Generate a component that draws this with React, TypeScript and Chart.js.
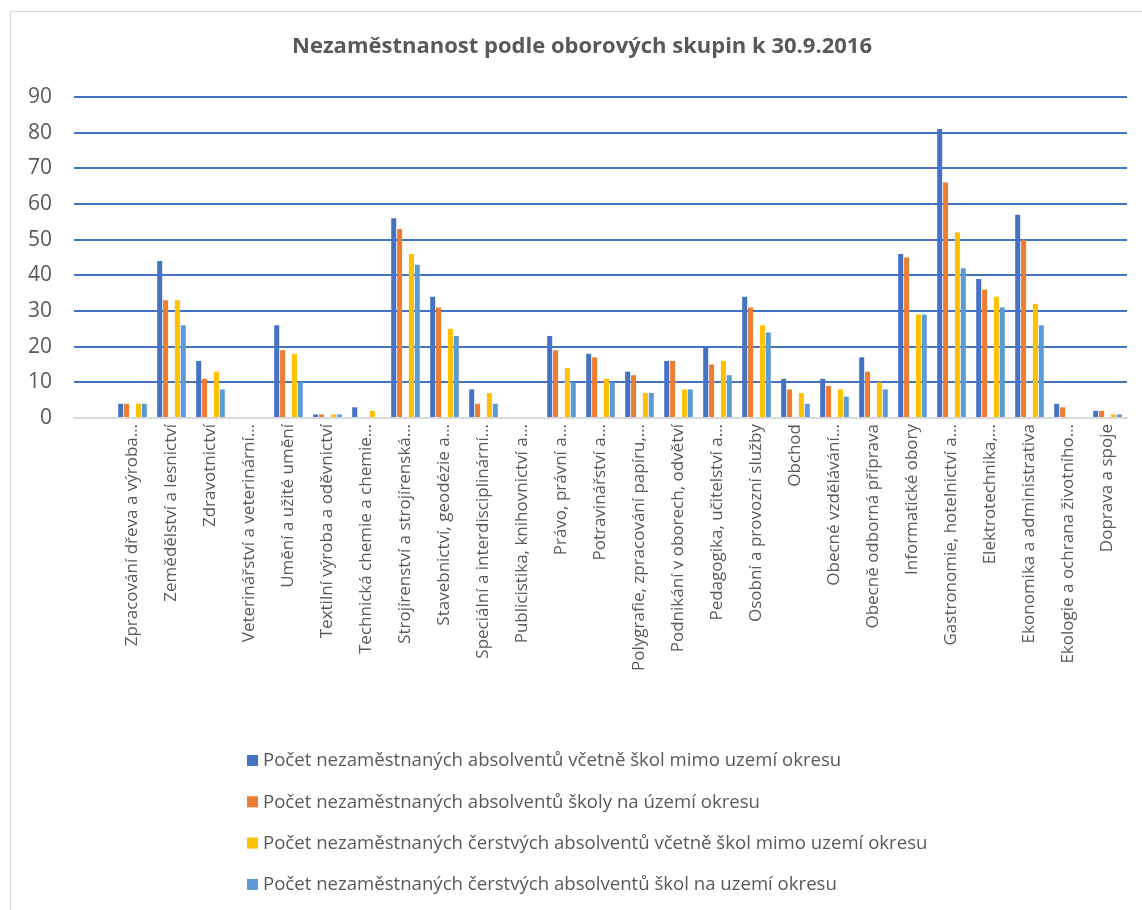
import React, { useEffect, useRef } from "react";
import { Chart, registerables } from "chart.js";

Chart.register(...registerables);

const TITLE = "Nezaměstnanost podle oborových skupin k 30.9.2016";

const categories: string[] = [
  "",
  "Zpracování dřeva a výroba…",
  "Zemědělství a lesnictví",
  "Zdravotnictví",
  "Veterinářství a veterinární…",
  "Umění a užité umění",
  "Textilní výroba a oděvnictví",
  "Technická chemie a chemie…",
  "Strojírenství a strojírenská…",
  "Stavebnictví, geodézie a…",
  "Speciální a interdisciplinární…",
  "Publicistika, knihovnictví a…",
  "Právo, právní a…",
  "Potravinářství a…",
  "Polygrafie, zpracování papíru,…",
  "Podnikání v oborech, odvětví",
  "Pedagogika, učitelství a…",
  "Osobní a provozní služby",
  "Obchod",
  "Obecné vzdělávání…",
  "Obecně odborná příprava",
  "Informatické obory",
  "Gastronomie, hotelnictví a…",
  "Elektrotechnika,…",
  "Ekonomika a administrativa",
  "Ekologie a ochrana životního…",
  "Doprava a spoje",
];

const seriesLabels: string[] = [
  "Počet nezaměstnaných absolventů včetně škol mimo uzemí okresu",
  "Počet nezaměstnaných absolventů školy na území okresu",
  "",
  "Počet nezaměstnaných čerstvých absolventů včetně škol mimo uzemí okresu",
  "Počet nezaměstnaných čerstvých absolventů škol na uzemí okresu",
];

const absolventiVcetneMimo: (number | null)[] = [
  null, 4, 44, 16, 0, 26, 1, 3, 56, 34, 8, 0, 23, 18, 13, 16, 20, 34, 11, 11, 17, 46, 81, 39, 57, 4, 2,
];
const absolventiOkres: (number | null)[] = [
  null, 4, 33, 11, 0, 19, 1, 0, 53, 31, 4, 0, 19, 17, 12, 16, 15, 31, 8, 9, 13, 45, 66, 36, 50, 3, 2,
];
const emptySeries: (number | null)[] = categories.map(() => null);
const cerstviVcetneMimo: (number | null)[] = [
  null, 4, 33, 13, 0, 18, 1, 2, 46, 25, 7, 0, 14, 11, 7, 8, 16, 26, 7, 8, 10, 29, 52, 34, 32, 0, 1,
];
const cerstviOkres: (number | null)[] = [
  null, 4, 26, 8, 0, 10, 1, 0, 43, 23, 4, 0, 10, 10, 7, 8, 12, 24, 4, 6, 8, 29, 42, 31, 26, 0, 1,
];

const seriesColors: string[] = ["#4472C4", "#ED7D31", "rgba(0,0,0,0)", "#FFC000", "#5B9BD5"];

const yTicks: number[] = [0, 10, 20, 30, 40, 50, 60, 70, 80, 90];

const FONT = "'Open Sans', 'Noto Sans', sans-serif";
const TEXT_COLOR = "#595959";

const overlayPlugin = {
  id: "titleAndLegend",
  afterDraw(chart: any) {
    const ctx = chart.ctx as CanvasRenderingContext2D;
    ctx.save();
    // title
    ctx.font = `bold 22px ${FONT}`;
    ctx.fillStyle = TEXT_COLOR;
    ctx.textAlign = "center";
    ctx.textBaseline = "middle";
    ctx.fillText(TITLE, 582, 47);
    // legend
    ctx.font = `18.6px ${FONT}`;
    ctx.textAlign = "left";
    let row = 0;
    chart.data.datasets.forEach((ds: any) => {
      if (!ds.label) return;
      const y = 760 + row * 41.3;
      ctx.fillStyle = ds.backgroundColor;
      ctx.fillRect(247, y - 5, 11, 11);
      ctx.fillStyle = TEXT_COLOR;
      ctx.fillText(ds.label, 263, y + 1);
      row++;
    });
    ctx.restore();
  },
};

export default function App() {
  const canvasRef = useRef<HTMLCanvasElement | null>(null);

  useEffect(() => {
    if (!canvasRef.current) return;
    const allData = [absolventiVcetneMimo, absolventiOkres, emptySeries, cerstviVcetneMimo, cerstviOkres];
    const chart = new Chart(canvasRef.current, {
      type: "bar",
      data: {
        labels: categories,
        datasets: allData.map((d, i) => ({
          label: seriesLabels[i],
          data: d,
          backgroundColor: seriesColors[i],
          borderWidth: 0,
          categoryPercentage: 0.756,
          barPercentage: 0.85,
        })),
      },
      options: {
        responsive: false,
        animation: false,
        layout: { padding: { left: 0, right: 15, top: 97, bottom: 0 } },
        plugins: {
          legend: { display: false },
          title: { display: false },
          tooltip: { enabled: false },
        },
        scales: {
          x: {
            grid: { display: false, drawTicks: false },
            border: { display: true, color: "#D9D9D9", width: 2 },
            ticks: {
              autoSkip: false,
              minRotation: 90,
              maxRotation: 90,
              padding: 6,
              color: TEXT_COLOR,
              font: { family: FONT, size: 17 },
            },
            afterFit: (scale: any) => {
              scale.height = 492;
            },
          },
          y: {
            min: 0,
            max: 90,
            afterBuildTicks: (scale: any) => {
              scale.ticks = yTicks.map((v) => ({ value: v }));
            },
            grid: {
              drawTicks: false,
              color: (c: any) => (c.tick && c.tick.value === 0 ? "#D9D9D9" : "#4472C4"),
              lineWidth: 2,
            },
            border: { display: false },
            ticks: {
              padding: 22,
              color: TEXT_COLOR,
              font: { family: FONT, size: 21 },
            },
            afterFit: (scale: any) => {
              scale.width = 74;
            },
          },
        },
      },
      plugins: [overlayPlugin],
    });
    return () => chart.destroy();
  }, []);

  return (
    <div
      style={{
        position: "fixed",
        left: 0,
        top: 0,
        width: 1142,
        height: 910,
        overflow: "hidden",
        background: "#ffffff",
      }}
    >
      <div
        style={{
          position: "absolute",
          left: 10,
          top: 11,
          width: 1300,
          height: 1000,
          border: "1px solid #D9D9D9",
        }}
      />
      <canvas
        ref={canvasRef}
        width={1142}
        height={910}
        style={{ position: "absolute", left: 0, top: 0, width: 1142, height: 910 }}
      />
    </div>
  );
}
